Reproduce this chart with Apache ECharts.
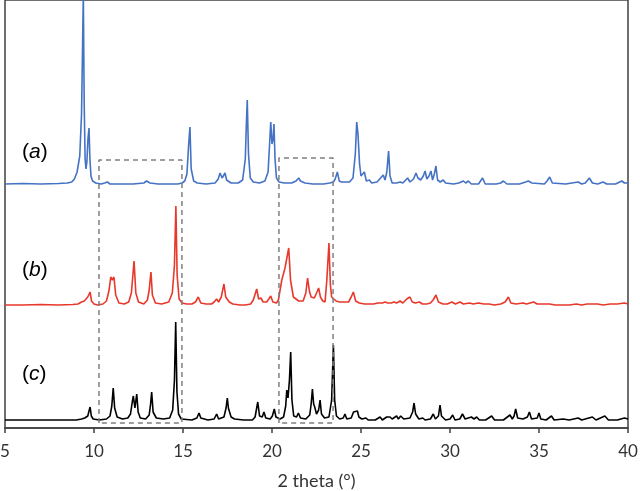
<!DOCTYPE html>
<html>
<head>
<meta charset="utf-8">
<script src="https://cdn.jsdelivr.net/npm/echarts@6/dist/echarts.min.js"></script>
<style>html,body{margin:0;padding:0;background:#fff}#c{width:640px;height:491px}</style>
</head>
<body>
<div id="c"></div>
<script>
// 2 theta tick labels
const xTicks = [5, 10, 15, 20, 25, 30, 35, 40];
const traceNames = ['a', 'b', 'c'];

// Pattern (a): [2θ, intensity above its baseline]
const patternA = [
[5,0],[6,0.5],[7,0],[8,0.5],[8.5,1],[8.75,2],[8.9,5],[9.05,12],[9.2,28],[9.3,70],[9.36,140],[9.4,190],[9.45,80],[9.5,25],[9.55,15],[9.6,22],[9.66,45],[9.72,56],[9.77,25],[9.83,8],[9.92,3],[10.1,1],[10.4,0],[10.6,1],[10.75,2],[10.9,0],[11.5,0],[12.2,0],[12.8,1],[12.95,3],[13.05,4],[13.15,1],[13.6,0],[14.2,0],[14.7,0],[14.95,1],[15.1,3],[15.22,10],[15.32,40],[15.39,57],[15.46,15],[15.6,3],[15.8,1],[16.3,0],[16.8,1],[16.98,5],[17.08,11],[17.2,6],[17.36,11],[17.45,4],[17.7,1],[18.1,1],[18.35,4],[18.5,25],[18.56,60],[18.61,84],[18.68,30],[18.78,6],[18.95,2],[19.3,1],[19.6,3],[19.78,12],[19.88,45],[19.93,62],[20.0,40],[20.06,45],[20.11,60],[20.17,25],[20.25,6],[20.4,2],[20.7,1],[21.1,1],[21.35,3],[21.5,6],[21.6,3],[21.7,3],[21.85,1],[22.3,0],[22.9,0],[23.25,1],[23.45,2],[23.55,5],[23.67,12],[23.78,3],[23.9,2],[24.0,4],[24.12,2],[24.35,2],[24.55,6],[24.68,30],[24.76,62],[24.83,50],[24.92,20],[25.0,8],[25.1,9],[25.19,12],[25.3,3],[25.47,4],[25.6,1],[25.9,2],[26.1,6],[26.25,9],[26.35,4],[26.45,12],[26.55,33],[26.63,8],[26.75,1],[27.0,1],[27.2,2],[27.35,1],[27.62,6],[27.75,2],[27.95,5],[28.09,11],[28.2,6],[28.35,4],[28.5,8],[28.6,13],[28.7,5],[28.82,8],[28.93,13],[29.02,4],[29.12,10],[29.21,18],[29.3,4],[29.45,2],[29.62,4],[29.75,1],[30.2,0],[30.5,1],[30.75,3],[30.88,1],[31.03,3],[31.2,0],[31.6,0],[31.83,6],[31.98,0],[32.6,0],[32.85,1],[33.0,3],[33.2,0],[33.9,0],[34.25,2],[34.4,3],[34.6,1],[35.3,0],[35.45,3],[35.6,7],[35.75,1],[36.5,0],[37.2,2],[37.4,0],[37.6,1],[37.83,6],[38.0,1],[38.3,0],[38.6,2],[38.8,0],[39.3,0],[39.65,3],[39.8,1],[40,1]
];

// Pattern (b)
const patternB = [
[5,0],[6,0],[7,0.5],[8,0],[8.8,0.5],[9.1,1],[9.3,3],[9.45,4],[9.55,5],[9.65,8],[9.78,13],[9.86,4],[10.0,1],[10.2,0],[10.5,1],[10.7,4],[10.85,15],[10.94,28],[11.03,25],[11.12,28],[11.22,10],[11.4,2],[11.7,1],[11.95,3],[12.1,12],[12.25,44],[12.35,12],[12.5,3],[12.8,1],[13.0,5],[13.1,15],[13.2,33],[13.28,10],[13.45,2],[13.8,1],[14.2,3],[14.4,12],[14.52,40],[14.6,99],[14.67,30],[14.78,6],[14.95,2],[15.2,1],[15.5,1],[15.7,3],[15.86,8],[16.0,2],[16.3,1],[16.6,1],[16.75,3],[16.89,6],[17.0,3],[17.15,8],[17.3,21],[17.4,8],[17.5,7],[17.6,3],[17.8,1],[18.2,0],[18.5,0],[18.8,1],[18.95,5],[19.14,16],[19.25,6],[19.38,7],[19.5,3],[19.7,3],[19.82,6],[19.93,9],[20.05,3],[20.25,2],[20.36,5],[20.55,25],[20.73,37],[20.82,36],[20.94,57],[21.04,25],[21.2,8],[21.35,6],[21.5,4],[21.75,4],[21.9,12],[22.0,27],[22.1,14],[22.2,8],[22.3,9],[22.38,7],[22.47,9],[22.55,14],[22.62,17],[22.72,8],[22.85,4],[22.98,3],[23.08,25],[23.2,62],[23.28,20],[23.35,8],[23.45,7],[23.6,4],[23.8,3],[24.1,3],[24.3,3],[24.45,8],[24.57,13],[24.7,4],[24.9,2],[25.2,1],[25.45,1],[25.7,1],[25.95,2],[26.2,2],[26.35,3],[26.5,2],[26.7,2],[26.85,3],[27.0,2],[27.2,4],[27.35,2],[27.57,6],[27.75,8],[27.88,3],[28.05,2],[28.28,3],[28.45,1],[28.7,1],[28.9,2],[29.05,5],[29.21,10],[29.35,3],[29.6,1],[29.85,1],[30.1,3],[30.3,1],[30.56,3],[30.75,1],[31.1,2],[31.3,1],[31.6,2],[31.9,1],[32.2,1],[32.5,0],[32.85,1],[33.1,3],[33.28,8],[33.42,2],[33.7,1],[34.1,2],[34.3,1],[34.7,3],[34.9,1],[35.3,1],[35.6,1],[35.9,0],[36.3,0],[36.7,0],[37.1,1],[37.4,0],[37.7,1],[38.0,1],[38.3,1],[38.6,0],[39.0,1],[39.4,1],[39.8,2],[40,1]
];

// Pattern (c)
const patternC = [
[5,0],[6,0],[7,0],[8,0],[9,0],[9.3,1],[9.48,2],[9.55,2],[9.65,4],[9.72,9],[9.78,13],[9.85,4],[9.95,1],[10.3,0],[10.7,1],[10.9,4],[11.0,14],[11.08,32],[11.16,12],[11.3,3],[11.6,1],[11.9,2],[12.05,6],[12.15,18],[12.21,24],[12.3,12],[12.4,26],[12.48,8],[12.6,2],[12.9,1],[13.1,5],[13.18,16],[13.24,28],[13.32,8],[13.5,2],[13.9,1],[14.25,2],[14.42,10],[14.52,40],[14.59,98],[14.66,28],[14.75,6],[14.9,1],[15.5,0],[15.78,2],[15.9,7],[16.0,2],[16.4,0],[16.75,1],[16.89,6],[17.0,1],[17.3,3],[17.42,12],[17.49,22],[17.55,12],[17.6,10],[17.7,3],[17.9,1],[18.4,0],[18.9,0],[19.05,3],[19.14,12],[19.2,18],[19.3,4],[19.45,3],[19.55,8],[19.65,2],[19.9,1],[20.02,4],[20.13,11],[20.22,3],[20.45,1],[20.65,3],[20.77,14],[20.83,30],[20.9,22],[20.98,40],[21.05,68],[21.12,20],[21.22,4],[21.38,3],[21.48,7],[21.6,2],[21.9,1],[22.12,5],[22.2,16],[22.27,31],[22.34,16],[22.4,13],[22.5,6],[22.62,10],[22.7,20],[22.78,6],[22.95,2],[23.2,3],[23.35,20],[23.45,75],[23.52,20],[23.62,4],[23.8,1],[24.0,2],[24.1,6],[24.2,1],[24.45,2],[24.58,8],[24.66,9],[24.8,9],[24.88,3],[25.05,1],[25.28,2],[25.4,0],[25.8,0],[26.07,3],[26.2,0],[26.44,3],[26.55,1],[26.63,3],[26.75,1],[27.0,4],[27.1,1],[27.23,4],[27.4,1],[27.75,2],[27.9,8],[27.98,17],[28.07,6],[28.25,1],[28.47,2],[28.6,0],[28.9,1],[29.06,6],[29.18,1],[29.35,4],[29.44,15],[29.52,4],[29.75,0],[30.0,1],[30.15,5],[30.28,0],[30.55,1],[30.7,6],[30.85,1],[31.2,3],[31.35,1],[31.5,3],[31.65,0],[32.0,0],[32.34,4],[32.5,0],[33.0,0],[33.37,5],[33.5,1],[33.6,4],[33.69,11],[33.8,2],[34.1,1],[34.35,3],[34.46,8],[34.58,1],[34.9,2],[35.0,7],[35.1,1],[35.4,0],[35.7,4],[35.85,0],[36.35,1],[36.7,0],[37.2,2],[37.4,0],[38.0,3],[38.2,0],[38.7,4],[38.9,0],[39.4,0],[39.8,2],[40,1]
];

// Highlighted 2θ ranges (dashed boxes): [from, to]
const boxRanges = [[10.28, 14.94], [20.39, 23.43]];

// ---- layout / styling ----
const offsets = [244, 123, 8];          // vertical stacking of traces
const colors = ['#4472C4', '#E8382B', '#000000'];
const boxTop = [268, 270], boxBottom = 5;

function shift(data, off) { return data.map(p => [p[0], p[1] + off]); }
function boxPath(r, top) {
  return [[r[0], boxBottom], [r[0], top], [r[1], top], [r[1], boxBottom], [r[0], boxBottom]];
}

const patterns = [patternA, patternB, patternC];
const series = patterns.map((d, i) => ({
  type: 'line', data: shift(d, offsets[i]), showSymbol: false, symbol: 'none',
  smooth: false, lineStyle: { color: colors[i], width: 1.6 }, z: 3, animation: false
}));
boxRanges.forEach((r, i) => series.push({
  type: 'line', data: boxPath(r, boxTop[i]), showSymbol: false, symbol: 'none',
  lineStyle: { color: '#7f7f7f', width: 1.5, type: [5, 4] }, z: 4, animation: false
}));

const chart = echarts.init(document.getElementById('c'), null, { renderer: 'canvas' });
chart.setOption({
  animation: false,
  backgroundColor: '#ffffff',
  grid: { left: 5, right: 12, top: 0, bottom: 63, show: true, borderColor: '#404040', borderWidth: 1.5,
          containLabel: false, outerBoundsMode: 'none' },
  xAxis: {
    type: 'value', min: xTicks[0], max: xTicks[xTicks.length - 1], interval: 5,
    name: '2 theta (°)', nameLocation: 'middle', nameGap: 44,
    nameTextStyle: { fontFamily: 'Lato', fontSize: 18, color: '#333' },
    axisLine: { show: true, lineStyle: { color: '#404040', width: 1.5 } },
    axisTick: { show: true, inside: false, length: 5, lineStyle: { color: '#404040', width: 1.5 } },
    axisLabel: { fontFamily: 'Lato', fontSize: 17, color: '#333', margin: 15 },
    splitLine: { show: false }
  },
  yAxis: { type: 'value', min: 0, max: 428, show: false, splitLine: { show: false } },
  graphic: traceNames.map((n, i) => ({
    type: 'text', left: 22, top: [142, 260, 364][i],
    style: {
      text: '{p|(}{i|' + n + '}{p|)}',
      rich: {
        p: { fontFamily: 'Liberation Sans', fontSize: 21, fill: '#000' },
        i: { fontFamily: 'Liberation Sans', fontSize: 21, fontStyle: 'italic', fill: '#000' }
      }
    }
  })),
  series: series
});
</script>
</body>
</html>
